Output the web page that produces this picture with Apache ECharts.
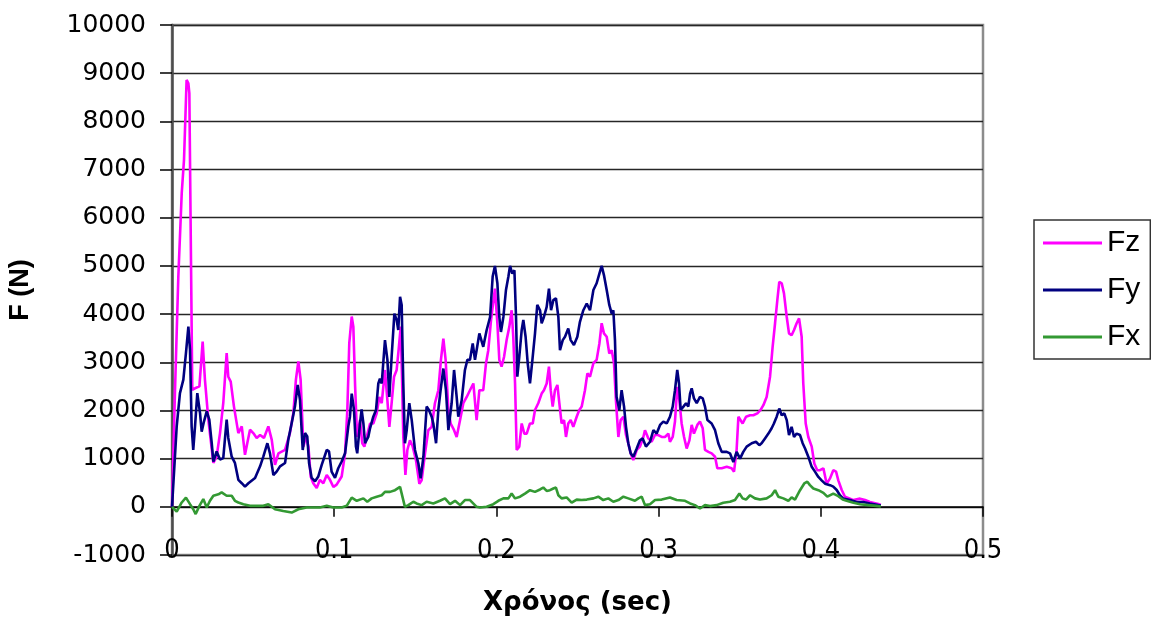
<!DOCTYPE html>
<html>
<head>
<meta charset="utf-8">
<script src="https://cdn.jsdelivr.net/npm/echarts@6/dist/echarts.min.js"></script>
<style>
  html, body { margin: 0; padding: 0; background: #ffffff; }
  #chart { width: 1151px; height: 625px; }
</style>
</head>
<body>
<div id="chart"></div>
<script>
// Measured force components over time: [time (s), force (N)]
const fzSamples = [[0,0],[.0018,2360],[.0039,4780],[.0060,6510],[.0074,7200],[.0090,8860],[.0101,8790],[.0107,8580],[.0117,5130],[.0125,2430],[.0142,2460],[.0169,2500],[.0189,3430],[.0203,2640],[.0224,1810],[.0255,910],[.0275,1040],[.0296,1530],[.0316,2150],[.0337,3190],[.0347,2700],[.0362,2600],[.0382,2080],[.0409,1530],[.0430,1670],[.0450,1080],[.0464,1320],[.0481,1600],[.0501,1530],[.0522,1430],[.0543,1490],[.0567,1430],[.0594,1670],[.0615,1390],[.0635,870],[.0656,1110],[.0697,1180],[.0727,1530],[.0748,1940],[.0764,2640],[.0779,3020],[.0793,2640],[.0810,1250],[.0826,1460],[.0841,1250],[.0855,630],[.0871,490],[.0892,390],[.0912,560],[.0933,490],[.0954,660],[.0974,560],[.0995,410],[.1015,460],[.1046,630],[.1067,1110],[.1081,2010],[.1093,3400],[.1108,3950],[.1118,3740],[.1129,2500],[.1141,1450],[.1159,1800],[.1173,1320],[.1186,1250],[.1200,1450],[.1221,1730],[.1241,1730],[.1262,1940],[.1278,2280],[.1293,2150],[.1313,2840],[.1328,2210],[.1340,1660],[.1354,2150],[.1369,2700],[.1385,2840],[.1397,3250],[.1410,3740],[.1418,2700],[.1426,1450],[.1439,660],[.1451,1180],[.1467,1380],[.1484,1250],[.1504,970],[.1525,480],[.1539,550],[.1560,1110],[.1580,1590],[.1601,1660],[.1621,2150],[.1642,2420],[.1658,3050],[.1673,3490],[.1687,3050],[.1704,2010],[.1718,1730],[.1739,1590],[.1755,1450],[.1776,1800],[.1796,2150],[.1817,2280],[.1837,2420],[.1858,2560],[.1878,1800],[.1895,2420],[.1919,2420],[.1936,2980],[.1950,3250],[.1967,3880],[.1991,4530],[.2006,3810],[.2018,3050],[.2032,2910],[.2047,3110],[.2063,3460],[.2080,3740],[.2094,4080],[.2104,3530],[.2115,2560],[.2125,1180],[.2141,1250],[.2156,1730],[.2172,1520],[.2187,1520],[.2207,1730],[.2224,1730],[.2238,2010],[.2258,2150],[.2279,2350],[.2293,2420],[.2310,2560],[.2324,2910],[.2335,2420],[.2347,2080],[.2361,2420],[.2376,2530],[.2388,2150],[.2402,1730],[.2417,1800],[.2429,1450],[.2443,1730],[.2458,1800],[.2474,1660],[.2495,1870],[.2511,2010],[.2526,2080],[.2546,2420],[.2561,2770],[.2577,2700],[.2598,2980],[.2618,3050],[.2635,3390],[.2649,3810],[.2663,3600],[.2680,3530],[.2696,3180],[.2711,3250],[.2725,2980],[.2737,2210],[.2752,1450],[.2766,1800],[.2783,1870],[.2799,1490],[.2813,1320],[.2828,1110],[.2844,970],[.2865,1180],[.2885,1250],[.2906,1450],[.2916,1590],[.2937,1420],[.2957,1350],[.2978,1490],[.2998,1490],[.3019,1450],[.3039,1450],[.3060,1520],[.3070,1350],[.3087,1450],[.3101,1770],[.3115,2490],[.3128,2210],[.3142,1730],[.3157,1450],[.3173,1210],[.3190,1380],[.3204,1700],[.3218,1520],[.3239,1700],[.3255,1770],[.3272,1630],[.3286,1180],[.3307,1140],[.3327,1110],[.3348,1040],[.3362,800],[.3389,800],[.3420,830],[.3450,800],[.3465,730],[.3481,1180],[.3492,1870],[.3502,1900],[.3518,1730],[.3539,1870],[.3564,1900],[.3584,1900],[.3609,1940],[.3629,2010],[.3646,2110],[.3666,2280],[.3687,2700],[.3703,3320],[.3718,3810],[.3732,4290],[.3744,4670],[.3759,4640],[.3773,4430],[.3790,3940],[.3804,3600],[.3820,3560],[.3835,3670],[.3851,3810],[.3866,3910],[.3882,3530],[.3892,2560],[.3907,1730],[.3923,1450],[.3944,1250],[.3960,900],[.3978,760],[.3995,760],[.4016,800],[.4036,480],[.4057,590],[.4077,760],[.4094,730],[.4108,550],[.4129,350],[.4149,210],[.4180,170],[.4201,140],[.4242,170],[.4273,140],[.4303,100],[.4355,60],[.4370,40]];

const fySamples = [[0,0],[.0029,1670],[.0049,2360],[.0070,2640],[.0086,3190],[.0101,3740],[.0111,3260],[.0121,1670],[.0131,1180],[.0142,1670],[.0156,2360],[.0173,1940],[.0183,1560],[.0197,1770],[.0214,1980],[.0230,1810],[.0245,1320],[.0255,940],[.0275,1150],[.0296,980],[.0316,1010],[.0337,1810],[.0347,1430],[.0368,1040],[.0388,910],[.0409,560],[.0430,490],[.0450,420],[.0471,490],[.0512,600],[.0543,840],[.0563,1040],[.0588,1320],[.0604,1110],[.0625,660],[.0645,730],[.0666,840],[.0697,910],[.0717,1390],[.0738,1740],[.0758,2080],[.0775,2530],[.0789,2220],[.0806,1180],[.0820,1530],[.0834,1460],[.0845,910],[.0861,600],[.0882,530],[.0902,630],[.0923,870],[.0954,1180],[.0968,1150],[.0984,730],[.1005,600],[.1025,800],[.1046,940],[.1067,1110],[.1087,1670],[.1097,1870],[.1108,2350],[.1122,2010],[.1134,1250],[.1142,1110],[.1159,1730],[.1169,2020],[.1180,1730],[.1190,1320],[.1210,1450],[.1221,1630],[.1241,1870],[.1258,2010],[.1272,2560],[.1282,2660],[.1293,2560],[.1313,3460],[.1328,3050],[.1340,2280],[.1354,3110],[.1371,4010],[.1385,3880],[.1395,3670],[.1406,4360],[.1416,4190],[.1426,2560],[.1436,1320],[.1447,1590],[.1463,2150],[.1478,1800],[.1498,1180],[.1519,900],[.1533,590],[.1550,1040],[.1570,2080],[.1584,2010],[.1601,1870],[.1611,1730],[.1628,1320],[.1642,2010],[.1656,2420],[.1673,2870],[.1689,2420],[.1704,1590],[.1724,2150],[.1739,2840],[.1755,2280],[.1765,1870],[.1786,2210],[.1806,2840],[.1821,3050],[.1837,3050],[.1854,3390],[.1868,3050],[.1878,3250],[.1895,3600],[.1919,3320],[.1940,3670],[.1961,3940],[.1977,4780],[.1991,5000],[.2006,4640],[.2018,3940],[.2028,3630],[.2043,3940],[.2059,4500],[.2074,4780],[.2084,5000],[.2098,4840],[.2111,4910],[.2121,3940],[.2129,2700],[.2141,3110],[.2156,3670],[.2166,3880],[.2180,3530],[.2193,2980],[.2207,2560],[.2222,3050],[.2238,3600],[.2252,4190],[.2269,4080],[.2279,3810],[.2293,3940],[.2310,4150],[.2324,4530],[.2337,4080],[.2351,4290],[.2367,4330],[.2382,3940],[.2392,3250],[.2409,3460],[.2423,3530],[.2443,3700],[.2458,3460],[.2478,3360],[.2499,3530],[.2515,3840],[.2536,4080],[.2557,4220],[.2577,4080],[.2598,4500],[.2618,4640],[.2635,4840],[.2649,5000],[.2663,4810],[.2680,4500],[.2696,4190],[.2711,4010],[.2721,4080],[.2731,3460],[.2741,2280],[.2758,2010],[.2772,2420],[.2787,2080],[.2799,1660],[.2813,1320],[.2828,1110],[.2844,1040],[.2865,1210],[.2885,1380],[.2902,1420],[.2922,1250],[.2947,1350],[.2968,1590],[.2988,1520],[.3009,1700],[.3029,1770],[.3050,1730],[.3070,1870],[.3087,2080],[.3101,2420],[.3115,2840],[.3126,2560],[.3136,2010],[.3153,2080],[.3169,2150],[.3183,2080],[.3194,2350],[.3204,2460],[.3218,2250],[.3235,2150],[.3255,2280],[.3272,2250],[.3286,2080],[.3301,1800],[.3327,1730],[.3348,1590],[.3368,1320],[.3389,1140],[.3420,1140],[.3440,1110],[.3461,930],[.3481,1140],[.3502,1000],[.3522,1140],[.3543,1250],[.3574,1320],[.3600,1350],[.3621,1280],[.3635,1320],[.3656,1420],[.3677,1520],[.3697,1630],[.3711,1730],[.3728,1870],[.3744,2040],[.3759,1900],[.3775,1940],[.3790,1800],[.3804,1490],[.3820,1660],[.3835,1450],[.3851,1520],[.3872,1490],[.3888,1320],[.3903,1210],[.3923,1040],[.3944,830],[.3964,730],[.3985,620],[.4005,550],[.4026,480],[.4057,450],[.4077,420],[.4098,350],[.4118,240],[.4139,170],[.4180,140],[.4221,100],[.4262,100],[.4303,70],[.4355,35],[.4370,30]];

const fxSamples = [[0,0],[.0029,-100],[.0060,90],[.0086,190],[.0111,55],[.0131,-50],[.0146,-150],[.0169,20],[.0193,160],[.0214,-15],[.0234,125],[.0255,230],[.0286,260],[.0306,300],[.0337,230],[.0368,230],[.0388,125],[.0409,90],[.0440,55],[.0481,20],[.0522,20],[.0563,20],[.0594,55],[.0635,-50],[.0686,-85],[.0738,-120],[.0779,-50],[.0830,-15],[.0871,-15],[.0912,-15],[.0954,20],[.0995,-15],[.1046,-15],[.1077,20],[.1108,190],[.1139,125],[.1180,175],[.1204,105],[.1231,175],[.1262,210],[.1293,240],[.1313,310],[.1344,310],[.1375,345],[.1406,415],[.1416,400],[.1436,0],[.1457,35],[.1488,105],[.1508,70],[.1539,35],[.1570,105],[.1611,70],[.1652,125],[.1683,175],[.1714,55],[.1745,125],[.1776,35],[.1806,140],[.1837,140],[.1878,0],[.1899,-15],[.1940,0],[.1981,55],[.2012,125],[.2043,175],[.2074,175],[.2094,275],[.2115,175],[.2146,210],[.2176,275],[.2207,345],[.2238,310],[.2269,360],[.2289,400],[.2310,330],[.2330,345],[.2351,380],[.2367,400],[.2382,240],[.2402,175],[.2433,195],[.2464,85],[.2495,150],[.2526,140],[.2557,150],[.2598,175],[.2628,210],[.2659,140],[.2690,175],[.2721,105],[.2752,140],[.2783,210],[.2813,175],[.2854,125],[.2875,175],[.2896,210],[.2916,35],[.2947,55],[.2978,140],[.3019,150],[.3070,195],[.3111,140],[.3163,125],[.3194,70],[.3224,35],[.3255,-35],[.3286,35],[.3317,15],[.3358,35],[.3399,85],[.3440,105],[.3471,140],[.3498,275],[.3518,175],[.3539,150],[.3564,240],[.3594,175],[.3625,150],[.3666,175],[.3697,240],[.3718,345],[.3738,210],[.3769,175],[.3800,125],[.3820,195],[.3841,150],[.3872,345],[.3898,485],[.3917,520],[.3933,450],[.3954,380],[.3985,345],[.4016,290],[.4040,210],[.4077,275],[.4108,220],[.4135,150],[.4159,125],[.4201,85],[.4242,55],[.4293,35],[.4355,15],[.4370,10]];

const seriesNames = ['Fz', 'Fy', 'Fx'];
const seriesColors = ['#ff00ff', '#000080', '#339933'];
const seriesSamples = [fzSamples, fySamples, fxSamples];

const timeTicks = { min: 0, max: 0.5, step: 0.1 };
const forceTicks = { min: -1000, max: 10000, step: 1000 };

const chart = echarts.init(document.getElementById('chart'), null, { renderer: 'canvas' });

const option = {
  backgroundColor: '#ffffff',
  animation: false,
  grid: {
    left: 172, right: 168, top: 25, bottom: 70,
    outerBoundsMode: 'none',
    containLabel: false,
    show: true,
    borderColor: '#8c8c8c',
    borderWidth: 2.5,
    backgroundColor: 'transparent'
  },
  legend: {
    data: seriesNames,
    orient: 'vertical',
    left: 1034,
    top: 220,
    icon: 'rect',
    itemWidth: 59,
    itemHeight: 3,
    itemGap: 11,
    padding: [5, 10, 4, 9],
    borderColor: '#333333',
    borderWidth: 1.5,
    textStyle: {
      fontFamily: 'Liberation Sans, Arial, sans-serif',
      fontSize: 30,
      lineHeight: 36,
      color: '#000000'
    }
  },
  xAxis: [
    {
      // tick labels along the lower edge of the plot
      type: 'value',
      position: 'bottom',
      min: timeTicks.min,
      max: timeTicks.max,
      interval: timeTicks.step,
      axisLine: { show: false, onZero: false },
      axisTick: { show: false },
      splitLine: { show: false },
      axisLabel: {
        margin: -4,
        verticalAlign: 'middle',
        fontFamily: 'Liberation Sans Narrow, DejaVu Sans Condensed, Liberation Sans, sans-serif',
        fontSize: 27,
        color: '#000000',
        showMinLabel: true,
        showMaxLabel: true,
        formatter: (v) => String(v)
      },
      name: 'Χρόνος (sec)',
      nameLocation: 'middle',
      nameGap: 35,
      nameTextStyle: {
        fontFamily: 'DejaVu Sans, sans-serif',
        fontWeight: 'bold',
        fontSize: 26,
        color: '#000000'
      }
    },
    {
      // axis line with its ticks crossing at F = 0
      type: 'value',
      position: 'bottom',
      min: timeTicks.min,
      max: timeTicks.max,
      interval: timeTicks.step,
      axisLine: { show: true, onZero: true, lineStyle: { color: '#000000', width: 1.5 } },
      axisTick: { show: true, inside: false, length: 10, lineStyle: { color: '#000000', width: 1.5 } },
      axisLabel: { show: false },
      splitLine: { show: false }
    }
  ],
  yAxis: {
    type: 'value',
    min: forceTicks.min,
    max: forceTicks.max,
    interval: forceTicks.step,
    axisLine: { show: true, onZero: false, lineStyle: { color: '#4d4d4d', width: 2.5 } },
    axisTick: { show: true, inside: false, length: 12, lineStyle: { color: '#000000', width: 1.5 } },
    splitLine: { show: true, lineStyle: { color: '#262626', width: 1.3 } },
    axisLabel: {
      margin: 26,
      fontFamily: 'DejaVu Sans, sans-serif',
      fontSize: 25,
      color: '#000000',
      formatter: (v) => String(v)
    },
    name: 'F (N)',
    nameLocation: 'middle',
    nameRotate: 90,
    nameGap: 138,
    nameTextStyle: {
      fontFamily: 'Liberation Sans, Arial, sans-serif',
      fontWeight: 'bold',
      fontSize: 27,
      color: '#000000'
    }
  },
  series: seriesNames.map((name, i) => ({
    name: name,
    type: 'line',
    xAxisIndex: 0,
    yAxisIndex: 0,
    data: seriesSamples[i],
    showSymbol: false,
    symbol: 'none',
    smooth: false,
    lineStyle: { color: seriesColors[i], width: 2.6 },
    itemStyle: { color: seriesColors[i] },
    emphasis: { disabled: true },
    z: 3 + i
  }))
};

chart.setOption(option);
</script>
</body>
</html>
